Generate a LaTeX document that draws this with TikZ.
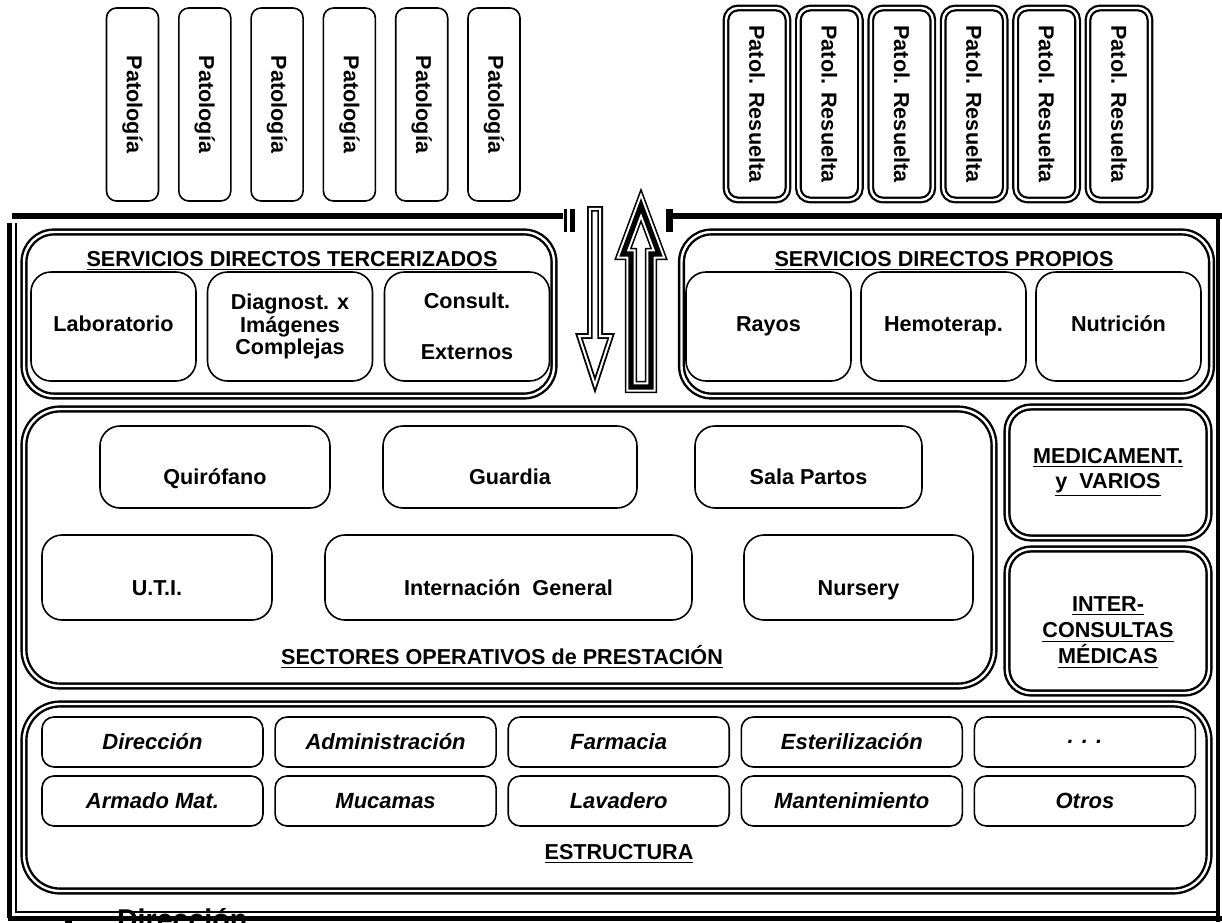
\documentclass[tikz,border=0pt]{standalone}
\usepackage{fontspec}
\setmainfont{Liberation Sans}
\tikzset{
  box/.style={draw, line width=0.8pt, rounded corners=10pt, align=center, inner sep=0pt},
  dbl/.style={draw, line width=1.1pt, double, double distance=1.2pt, align=center, inner sep=0pt},
  sunk/.style={text height=19.8pt, text depth=2pt},
  even/.style={text height=7.8pt, text depth=3pt},
  ital/.style={font=\fontsize{11}{13}\selectfont\bfseries\itshape},
  heading/.style={anchor=base}
}
\begin{document}
\begin{tikzpicture}[x=0.5pt, y=-0.5pt,
  every node/.style={font=\fontsize{10.8}{12.5}\selectfont\bfseries}]
  \useasboundingbox (0,0) rectangle (1222,922);
  \clip (0,0) rectangle (1222,922);

  % Pathologies coming in
  \foreach \i in {0,...,5}
    \node[box, rounded corners=5pt, rotate=-90, minimum width=96.5pt, minimum height=26pt]
      (pat\i) at (132.5+72.3*\i,104.5) {Patología};

  % Pathologies resolved
  \foreach \i in {0,...,5}
    \node[dbl, rounded corners=6pt, rotate=-90, minimum width=96pt, minimum height=31pt]
      (res\i) at (757+72.4*\i,104) {Patol. Resuelta};

  % Frame
  \draw[line width=3pt] (12,216) -- (563,216);
  \draw[line width=1.6pt] (565.5,209) -- (565.5,232);
  \draw[line width=2.6pt] (572.5,209) -- (572.5,232);
  \draw[line width=3.5pt] (669.5,209) -- (669.5,232);
  \draw[line width=3pt] (671,216) -- (1222,216);
  \draw[line width=2pt] (1218,214) -- (1218,922);
  \draw[line width=2.5pt] (9.5,223) -- (9.5,918);
  \draw[line width=1pt] (15.5,223) -- (15.5,912) -- (1218,912);
  \draw[line width=2.5pt] (8,918) -- (1222,918);

  % Arrows
  \draw[line width=0.9pt, double, double distance=1pt, line join=miter]
    (589.8,208.8) -- (600.2,208.8) -- (600.2,336) -- (611,336) -- (595,385)
    -- (579,336) -- (589.8,336) -- cycle;
  \foreach \w/\c in {6.2pt/black,4.6pt/white,2.6pt/black}
    \draw[line width=\w, draw=\c, line join=miter]
      (631,387) -- (631,254) -- (623,254) -- (641,205.5) -- (659,254)
      -- (651,254) -- (651,387) -- cycle;

  % Outsourced services
  \node[dbl, line width=1.2pt, rounded corners=15pt, minimum width=265pt, minimum height=82pt]
    (terc) at (289,314) {};
  \node[heading] (tercT) at (292,266) {\underline{SERVICIOS DIRECTOS TERCERIZADOS}};
  \node[box, even, minimum width=82.5pt, minimum height=54.5pt] (lab) at (113.5,326.5) {Laboratorio};
  \node[box, minimum width=82.5pt, minimum height=54.5pt,
    font=\fontsize{10.8}{11.3}\selectfont\bfseries] (diag) at (290,326.5)
    {Diagnost. x\\Imágenes\\Complejas};
  \node[box, minimum width=82.5pt, minimum height=54.5pt] (cons) at (467,326.5)
    {Consult.\\[13pt]Externos};

  % Own services
  \node[dbl, line width=1.2pt, rounded corners=15pt, minimum width=265pt, minimum height=82pt]
    (prop) at (946.5,314) {};
  \node[heading] (propT) at (944,266) {\underline{SERVICIOS DIRECTOS PROPIOS}};
  \node[box, even, minimum width=82.5pt, minimum height=54.5pt] (rayos) at (768.5,326.5) {Rayos};
  \node[box, even, minimum width=82.5pt, minimum height=54.5pt] (hemo) at (943.5,326.5) {Hemoterap.};
  \node[box, even, minimum width=82.5pt, minimum height=54.5pt] (nutr) at (1118.5,326.5) {Nutrición};

  % Operative sectors
  \node[dbl, line width=1.2pt, rounded corners=18pt, minimum width=485pt, minimum height=138.5pt]
    (sect) at (509,547.5) {};
  \node[heading] (sectT) at (502,664) {\underline{SECTORES OPERATIVOS de PRESTACIÓN}};
  \node[box, sunk, minimum width=115pt, minimum height=41pt] (quir) at (215,467) {Quirófano};
  \node[box, sunk, minimum width=127pt, minimum height=41pt] (guard) at (510,467) {Guardia};
  \node[box, sunk, minimum width=113.5pt, minimum height=41pt] (sala) at (808.5,467) {Sala Partos};
  \node[box, sunk, minimum width=115pt, minimum height=42.5pt] (uti) at (157,577.5) {U.T.I.};
  \node[box, sunk, minimum width=183.5pt, minimum height=42.5pt] (intern) at (508.5,577.5)
    {Internación~ General};
  \node[box, sunk, minimum width=114.5pt, minimum height=42.5pt] (nurs) at (858.5,577.5) {Nursery};

  % Side boxes
  \node[dbl, line width=1.2pt, rounded corners=12pt, minimum width=101pt, minimum height=65.5pt]
    (medic) at (1108,472.5) {\underline{MEDICAMENT.}\\\underline{y~ VARIOS}};
  \node[dbl, line width=1.2pt, rounded corners=12pt, minimum width=101pt, minimum height=72pt,
    font=\fontsize{10.8}{13}\selectfont\bfseries]
    (inter) at (1108,621) {\\[6pt]\underline{INTER-}\\\underline{CONSULTAS}\\\underline{MÉDICAS}};

  % Structure
  \node[dbl, line width=1.2pt, rounded corners=18pt, minimum width=592.5pt, minimum height=93.5pt]
    (estr) at (616.5,797.5) {};
  \node[heading] (estrT) at (619,859) {\underline{ESTRUCTURA}};
  \foreach \t [count=\i from 0] in {Dirección,Administración,Farmacia,Esterilización,. . .}
    \node[box, ital, rounded corners=6pt, minimum width=110.5pt, minimum height=25pt]
      (up\i) at (152.5+233.1*\i,742) {\t};
  \foreach \t [count=\i from 0] in {Armado Mat.,Mucamas,Lavadero,Mantenimiento,Otros}
    \node[box, ital, rounded corners=6pt, minimum width=110.5pt, minimum height=25pt]
      (low\i) at (152.5+233.1*\i,801) {\t};

  % Cut-off item below the frame
  \node[fill, inner sep=0pt, minimum size=3.5pt] (bul) at (68.5,921.5) {};
  \node[anchor=base west, font=\fontsize{14.3}{16}\selectfont\bfseries] (dir) at (110,929) {Dirección};
\end{tikzpicture}
\end{document}
